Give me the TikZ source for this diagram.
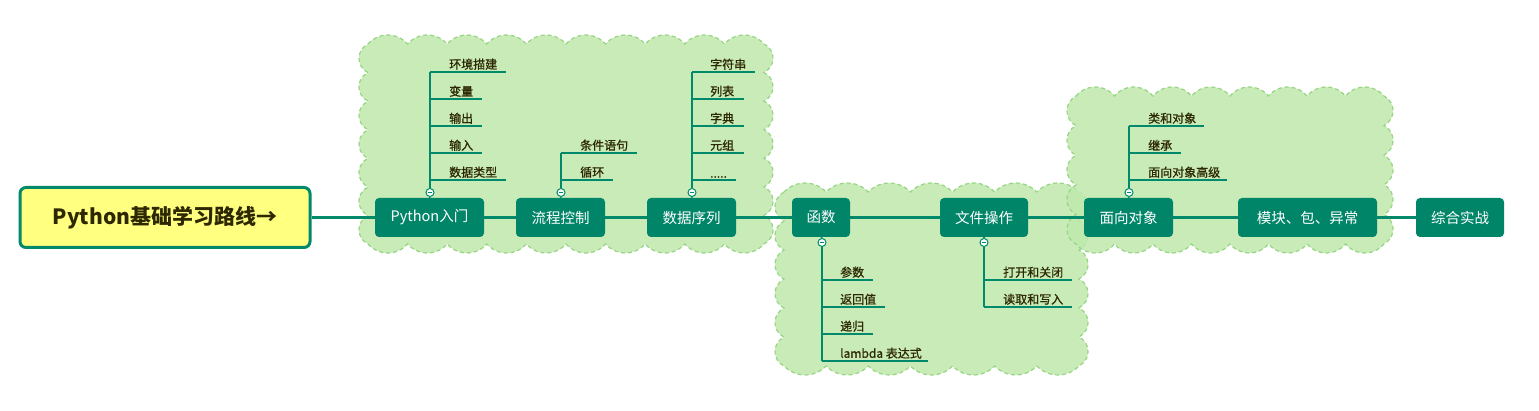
\documentclass[tikz,border=0pt]{standalone}
\usepackage{fontspec}
\setmainfont{Noto Sans CJK SC}
\newfontfamily\leaffont{Noto Sans CJK SC}[FakeBold=0.8]
\definecolor{tealline}{RGB}{0,137,106}
\definecolor{nodefill}{RGB}{0,133,104}
\definecolor{cloudfillc}{RGB}{190,232,172}
\definecolor{clouddrawc}{RGB}{150,214,130}
\definecolor{rootfillc}{RGB}{255,255,128}
\definecolor{leaftext}{RGB}{45,40,0}
\tikzset{
  mainnode/.style={fill=nodefill, rounded corners=4pt, text=white, font=\fontsize{14.5}{17}\selectfont, minimum height=39pt, inner sep=0pt, align=center},
  rootnode/.style={fill=rootfillc, draw=tealline, line width=3pt, rounded corners=6pt, text=leaftext, font=\fontsize{21}{24}\selectfont\bfseries, minimum width=290pt, minimum height=60pt, inner sep=0pt},
  leaf/.style={anchor=south west, text=leaftext, font=\leaffont\fontsize{12}{14}\selectfont, inner sep=1pt},
  branch/.style={draw=tealline, line width=1.5pt},
  stemline/.style={draw=tealline, line width=2pt},
  mainline/.style={draw=tealline, line width=3pt},
  toggle/.style={circle, draw=tealline, fill=white, minimum size=8pt, inner sep=0pt, line width=1pt,
    path picture={\draw[tealline, line width=0.8pt] ([xshift=-2pt]path picture bounding box.center) -- ([xshift=2pt]path picture bounding box.center);}},
  cloudbg/.style={fill=cloudfillc, fill opacity=0.85, draw=clouddrawc, dash pattern=on 4pt off 3pt, line width=1.2pt}
}
\newcommand{\scallop}[7]{%
 \pgfmathsetmacro\sbwx{(#3-#1)/#5}%
 \pgfmathsetmacro\sbwy{(#4-#2)/#6}%
 \pgfmathsetmacro\sbrx{(\sbwx*\sbwx/4+#7*#7)/(2*#7)}%
 \pgfmathsetmacro\sbry{(\sbwy*\sbwy/4+#7*#7)/(2*#7)}%
 \pgfmathsetmacro\sbhx{asin(\sbwx/(2*\sbrx))}%
 \pgfmathsetmacro\sbhy{asin(\sbwy/(2*\sbry))}%
 \path[cloudbg] (#1,#2)
   foreach \k in {1,...,#5}{ arc[start angle=-90-\sbhx, end angle=-90+\sbhx, radius=\sbrx] }
   foreach \k in {1,...,#6}{ arc[start angle=-\sbhy, end angle=\sbhy, radius=\sbry] }
   foreach \k in {1,...,#5}{ arc[start angle=90-\sbhx, end angle=90+\sbhx, radius=\sbrx] }
   foreach \k in {1,...,#6}{ arc[start angle=180-\sbhy, end angle=180+\sbhy, radius=\sbry] }
   -- cycle;
}
\newcommand{\leafitem}[6]{%
 \coordinate (#1-s) at (#2,#3);
 \coordinate (#1-e) at (#5,#3);
 \draw[branch] (#1-s) -- (#1-e);
 \node[leaf] (#1) at (#4,#3-1) {#6};
}
\begin{document}
\begin{tikzpicture}[x=1pt,y=-1pt]
\useasboundingbox (0,0) rectangle (1539,411);
% clouds
\scallop{368}{44}{764}{244}{10}{7}{9}
\scallop{784}{192}{1079}{366}{7}{6}{9}
\scallop{1076}{96}{1384}{244}{8}{5}{9}
% nodes
\node[rootnode] (root) at (165,217.5) {Python基础学习路线→};
\node[mainnode, minimum width=109pt] (n1) at (429.5,217.5) {Python入门};
\node[mainnode, minimum width=89pt] (n2) at (560.5,217.5) {流程控制};
\node[mainnode, minimum width=89pt] (n3) at (691.5,217.5) {数据序列};
\node[mainnode, minimum width=58pt] (n4) at (821,217.5) {函数};
\node[mainnode, minimum width=88pt] (n5) at (984,217.5) {文件操作};
\node[mainnode, minimum width=89pt] (n6) at (1128.5,217.5) {面向对象};
\node[mainnode, minimum width=139pt] (n7) at (1307.5,217.5) {模块、包、异常};
\node[mainnode, minimum width=88pt] (n8) at (1460,217.5) {综合实战};
% main line
\draw[mainline] (root.east) -- (n1.west);
\draw[mainline] (n1.east) -- (n2.west);
\draw[mainline] (n2.east) -- (n3.west);
\draw[mainline] (n3.east) -- (n4.west);
\draw[mainline] (n4.east) -- (n5.west);
\draw[mainline] (n5.east) -- (n6.west);
\draw[mainline] (n6.east) -- (n7.west);
\draw[mainline] (n7.east) -- (n8.west);
% group 1
\leafitem{a1}{430}{72}{448}{506}{环境描建}
\leafitem{a2}{430}{99}{448}{482}{变量}
\leafitem{a3}{430}{126}{448}{482}{输出}
\leafitem{a4}{430}{153}{448}{482}{输入}
\leafitem{a5}{430}{180}{448}{506}{数据类型}
\node[toggle] (t1) at (430,192.5) {};
\draw[stemline] (t1.north) -- (a1-s);
\draw[branch] (n1.north) -- (t1.south);
% group 2
\leafitem{b1}{561}{153}{579}{637}{条件语句}
\leafitem{b2}{561}{180}{579}{613}{循环}
\node[toggle] (t2) at (561,192.5) {};
\draw[stemline] (t2.north) -- (b1-s);
\draw[branch] (n2.north) -- (t2.south);
% group 3
\leafitem{c1}{692}{72}{709}{755}{字符串}
\leafitem{c2}{692}{99}{709}{744}{列表}
\leafitem{c3}{692}{126}{709}{744}{字典}
\leafitem{c4}{692}{153}{709}{744}{元组}
\leafitem{c5}{692}{180}{709}{736}{.....}
\node[toggle] (t3) at (692,192.5) {};
\draw[stemline] (t3.north) -- (c1-s);
\draw[branch] (n3.north) -- (t3.south);
% group 4
\leafitem{d1}{822}{280}{839}{873}{参数}
\leafitem{d2}{822}{307}{839}{885}{返回值}
\leafitem{d3}{822}{334}{839}{873}{递归}
\leafitem{d4}{822}{361}{839}{928}{lambda 表达式}
\node[toggle] (t4) at (822,242.5) {};
\draw[stemline] (t4.south) -- (d4-s);
\draw[branch] (n4.south) -- (t4.north);
% group 5
\leafitem{e1}{984}{280}{1002}{1072}{打开和关闭}
\leafitem{e2}{984}{307}{1002}{1072}{读取和写入}
\node[toggle] (t5) at (984,242.5) {};
\draw[stemline] (t5.south) -- (e2-s);
\draw[branch] (n5.south) -- (t5.north);
% group 6
\leafitem{f1}{1129}{126}{1147}{1204}{类和对象}
\leafitem{f2}{1129}{153}{1147}{1181}{继承}
\leafitem{f3}{1129}{180}{1147}{1227}{面向对象高级}
\node[toggle] (t6) at (1129,192.5) {};
\draw[stemline] (t6.north) -- (f1-s);
\draw[branch] (n6.north) -- (t6.south);
\end{tikzpicture}
\end{document}
